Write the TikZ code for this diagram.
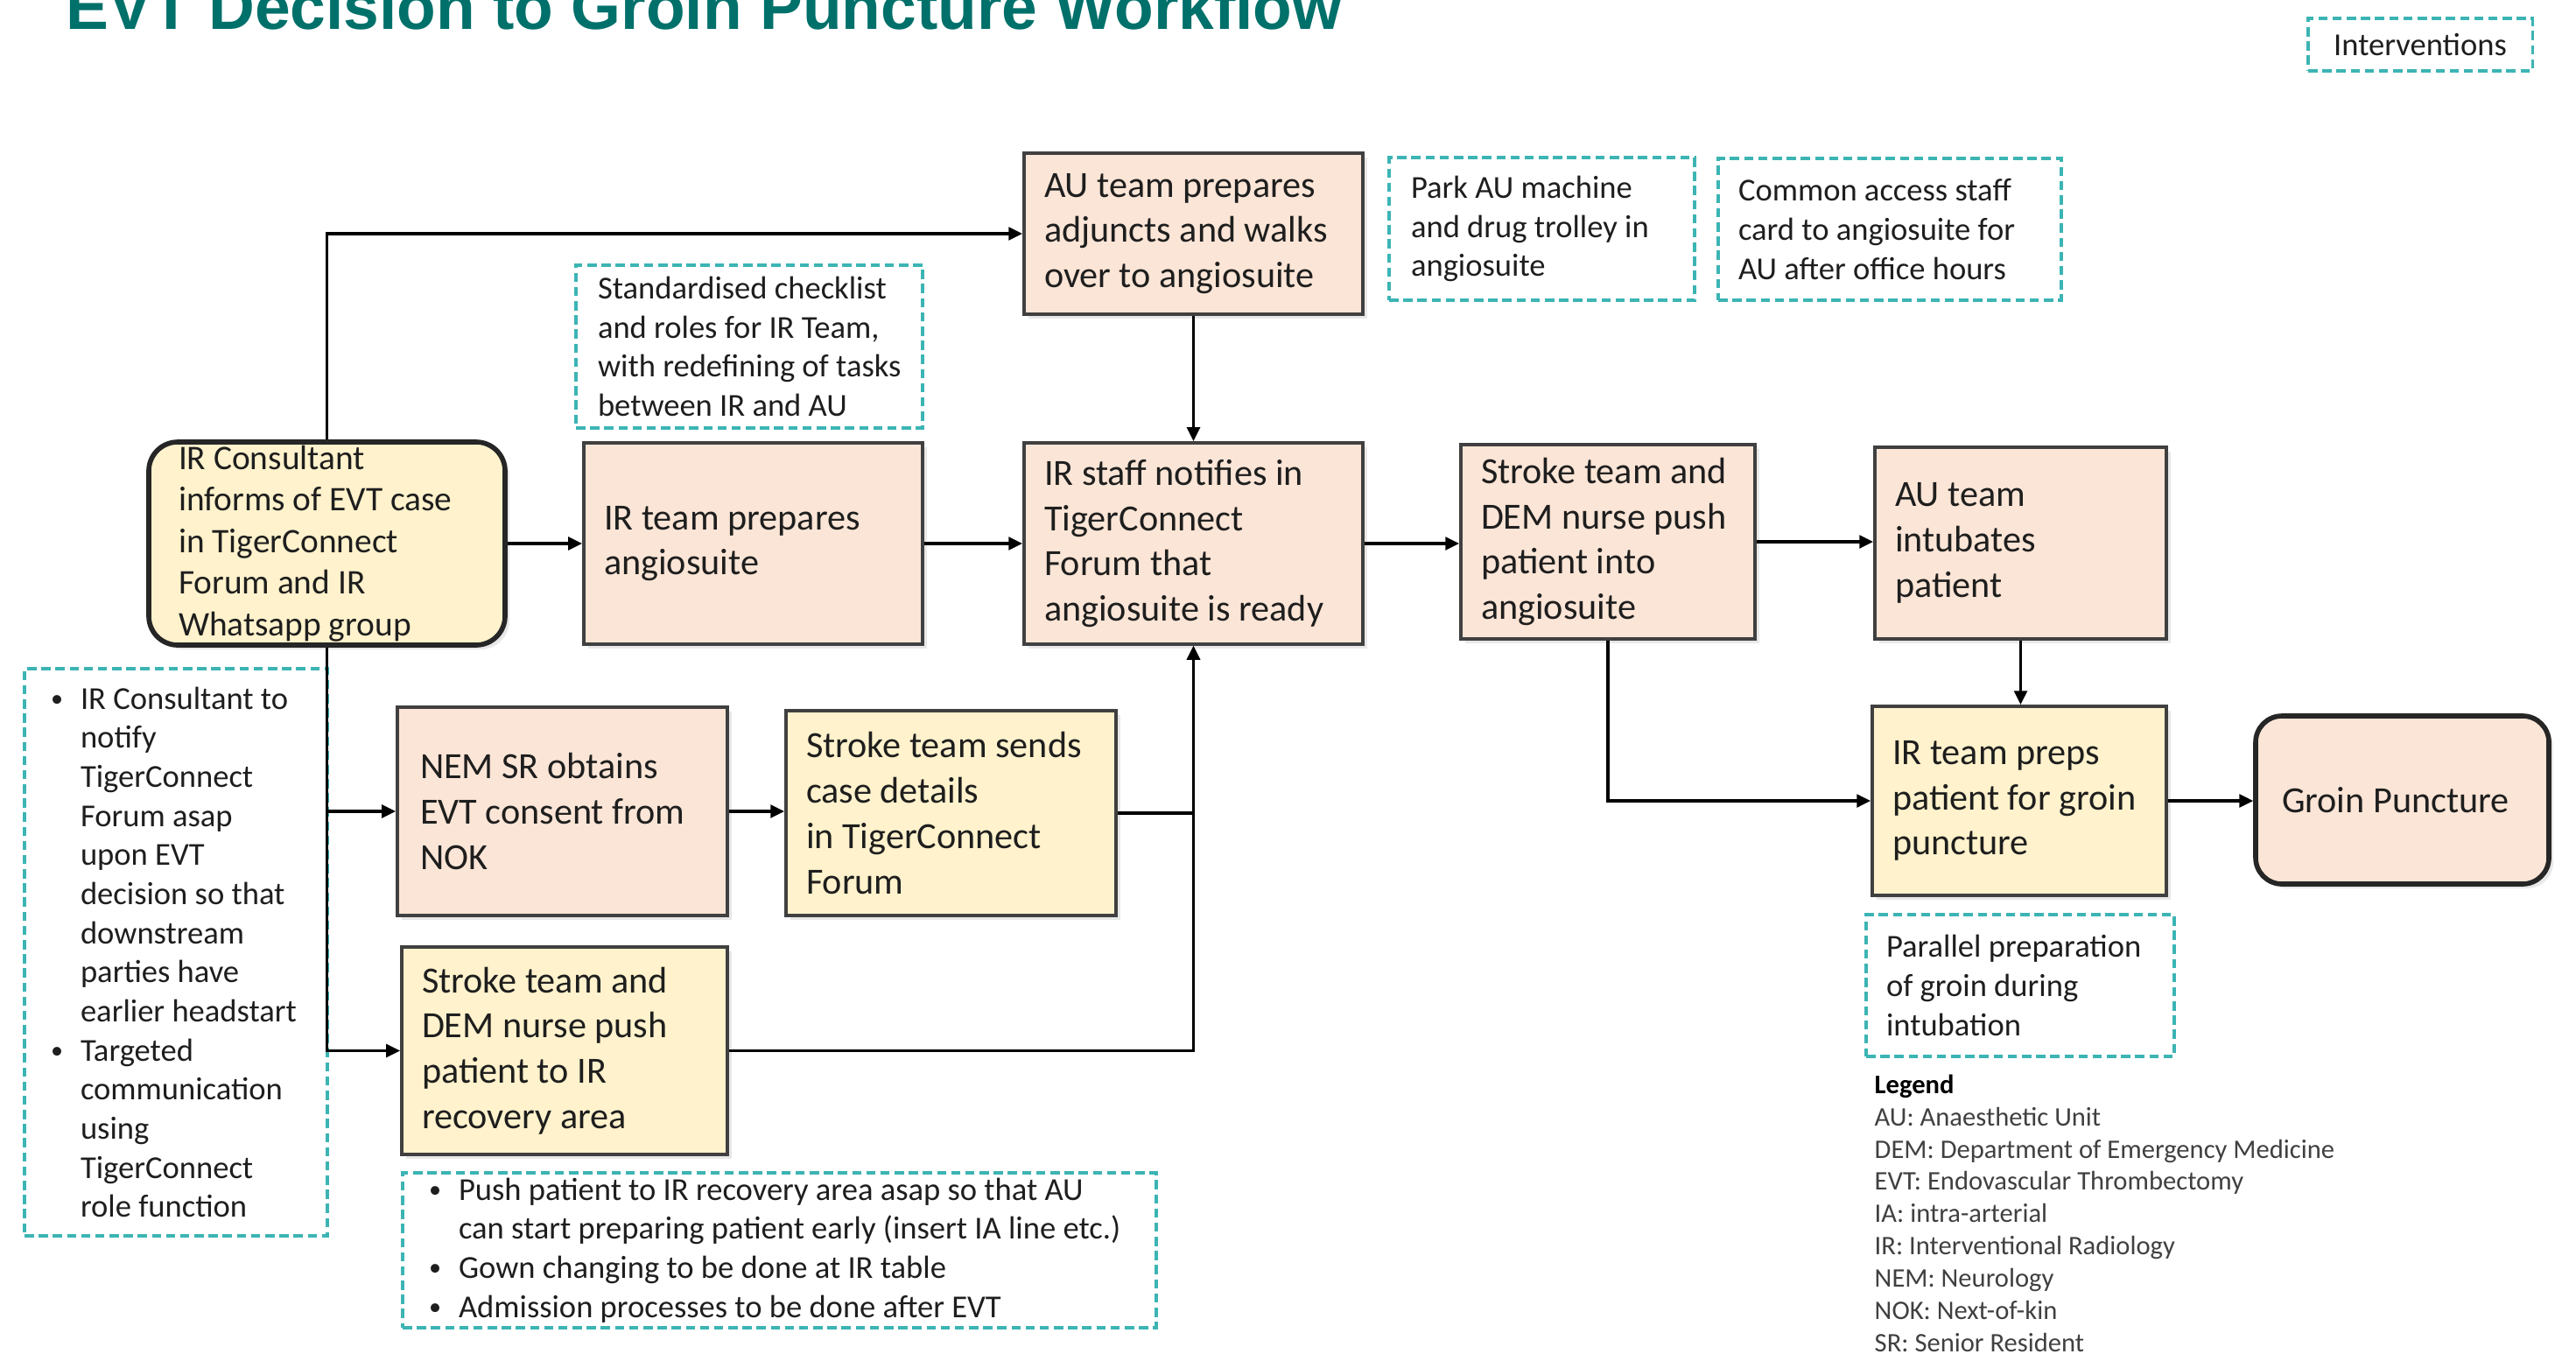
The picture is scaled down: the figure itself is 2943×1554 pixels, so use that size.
\documentclass[tikz,border=0pt]{standalone}
\usepackage{fontspec}
\setmainfont{Carlito}
\newfontfamily\titlefont{Liberation Sans}
\usetikzlibrary{arrows.meta,shadows}
\definecolor{peach}{RGB}{251,229,214}
\definecolor{cream}{RGB}{255,242,204}
\definecolor{edgegray}{RGB}{64,64,64}
\definecolor{titleteal}{RGB}{0,112,106}
\definecolor{dashteal}{RGB}{60,180,180}
\definecolor{txt}{RGB}{30,30,30}
\definecolor{legtxt}{RGB}{64,64,64}
\newcommand{\bul}{\makebox[0.34cm][l]{\raisebox{0.15ex}{\fontsize{8}{8}\selectfont\textbullet}}}
\newcommand{\ind}{\hspace*{0.34cm}}
% #1 left pad (cm), #2 name, #3 x1, #4 y1, #5 x2, #6 y2, #7 style, #8 text
\newcommand{\flowbox}[8][0.23]{%
  \pgfmathsetmacro{\bwid}{(#5-#3)*0.01}%
  \pgfmathsetmacro{\bhgt}{(#6-#4)*0.01}%
  \pgfmathsetmacro{\tw}{\bwid-#1-0.05}%
  \node[#7, inner sep=0pt, minimum width=\bwid cm, minimum height=\bhgt cm] (#2)
    at ({(#3+#5)/2},{(#4+#6)/2}) {\hspace*{#1cm}\parbox{\tw cm}{\raggedright #8}\hspace*{0.05cm}};}
\tikzset{
  box/.style={draw=edgegray, line width=1.1pt, text=txt, font=\fontsize{12}{14.7}\selectfont,
    drop shadow={opacity=0.18, shadow xshift=0.05cm, shadow yshift=-0.05cm}},
  peachbox/.style={box, fill=peach},
  creambox/.style={box, fill=cream},
  ibox/.style={draw=dashteal, line width=0.9pt, dash pattern=on 3pt off 1.6pt, text=txt,
    font=\fontsize{10.4}{12.7}\selectfont},
  conn/.style={line width=0.9pt, draw=black, -{Triangle[length=4.5pt,width=4.2pt]}},
}
\begin{document}
\begin{tikzpicture}[x=0.01cm,y=-0.01cm]
\useasboundingbox (0,0) rectangle (2943,1554);
\clip (0,0) rectangle (2943,1554);

% title
\node[anchor=base west, inner sep=0pt, text=titleteal, font=\titlefont\bfseries\fontsize{20.8}{24}\selectfont] (title) at (75,33) {EVT Decision to Groin Puncture Workflow};

% interventions key
\node[ibox, minimum width=2.56cm, minimum height=0.6cm, inner sep=0pt] (interv) at (2765,51) {Interventions};

% process boxes
\flowbox[0.34]{cons}{170}{505}{577}{737}{creambox, rounded corners=0.33cm, draw=black!85, line width=1.6pt, font=\fontsize{11.2}{13.5}\selectfont}{IR Consultant\\informs of EVT case\\in TigerConnect\\Forum and IR\\Whatsapp group}
\flowbox{irprep}{667}{506}{1054}{736}{peachbox}{IR team prepares\\angiosuite}
\flowbox{au}{1170}{175}{1557}{359}{peachbox}{AU team prepares\\adjuncts and walks\\over to angiosuite}
\flowbox{irstaff}{1170}{506}{1557}{736}{peachbox}{IR staff notifies in\\TigerConnect\\Forum that\\angiosuite is ready}
\flowbox{strokeA}{1669}{508}{2005}{730}{peachbox}{Stroke team and\\DEM nurse push\\patient into\\angiosuite}
\flowbox{intub}{2142}{511}{2475}{730}{peachbox}{AU team\\intubates\\patient}
\flowbox{preps}{2139}{807}{2475}{1023}{creambox}{IR team preps\\patient for groin\\puncture}
\flowbox[0.3]{groin}{2577}{818}{2912}{1010}{peachbox, rounded corners=0.3cm, draw=black!85, line width=1.6pt}{Groin Puncture}
\flowbox[0.26]{nem}{454}{808}{831}{1046}{peachbox}{NEM SR obtains\\EVT consent from\\NOK}
\flowbox{sends}{898}{812}{1275}{1046}{creambox}{Stroke team sends\\case details\\in TigerConnect\\Forum}
\flowbox{recov}{459}{1082}{831}{1319}{creambox}{Stroke team and\\DEM nurse push\\patient to IR\\recovery area}

% intervention notes
\flowbox[0.25]{std}{658}{303}{1054}{489}{ibox}{Standardised checklist\\and roles for IR Team,\\with redefining of tasks\\between IR and AU}
\flowbox[0.25]{park}{1587}{180}{1936}{343}{ibox}{Park AU machine\\and drug trolley in\\angiosuite}
\flowbox{common}{1963}{181}{2355}{343}{ibox}{Common access staff\\card to angiosuite for\\AU after office hours}
\flowbox{parallel}{2132}{1045}{2484}{1207}{ibox}{Parallel preparation\\of groin during\\intubation}
\flowbox[0.3]{leftnote}{28}{764}{374}{1412}{ibox}{\bul IR Consultant to\\\ind notify\\\ind TigerConnect\\\ind Forum asap\\\ind upon EVT\\\ind decision so that\\\ind downstream\\\ind parties have\\\ind earlier headstart\\\bul Targeted\\\ind communication\\\ind using\\\ind TigerConnect\\\ind role function}
\flowbox[0.3]{bottomnote}{460}{1340}{1321}{1517}{ibox}{\bul Push patient to IR recovery area asap so that AU\\\ind can start preparing patient early (insert IA line etc.)\\\bul Gown changing to be done at IR table\\\bul Admission processes to be done after EVT}

% legend
\node[anchor=north west, inner sep=0pt, align=left, text=legtxt, font=\fontsize{8.7}{10.5}\selectfont] (legend) at (2141,1227)
  {\textcolor{black}{\textbf{Legend}}\\AU: Anaesthetic Unit\\DEM: Department of Emergency Medicine\\EVT: Endovascular Thrombectomy\\IA: intra-arterial\\IR: Interventional Radiology\\NEM: Neurology\\NOK: Next-of-kin\\SR: Senior Resident};

% connectors
\draw[conn] (cons.north) |- (au.west);
\draw[conn] (cons.east) -- (irprep.west);
\draw[conn] (irprep.east) -- (irstaff.west);
\draw[conn] (au.south) -- (irstaff.north);
\draw[conn] (irstaff.east) -- (irstaff.east -| strokeA.west);
\draw[conn] (strokeA.east) -- (strokeA.east -| intub.west);
\draw[conn] (intub.south) -- (intub.south |- preps.north);
\draw[conn] (strokeA.south) |- (preps.west);
\draw[conn] (preps.east) -- (preps.east -| groin.west);
\draw[conn] (cons.south) |- (nem.west);
\draw[conn] (cons.south) |- (recov.west);
\draw[conn] (nem.east) -- (nem.east -| sends.west);
\draw[conn] (sends.east) -| (irstaff.south);
\draw[conn] (recov.east) -| (irstaff.south);
\end{tikzpicture}
\end{document}
